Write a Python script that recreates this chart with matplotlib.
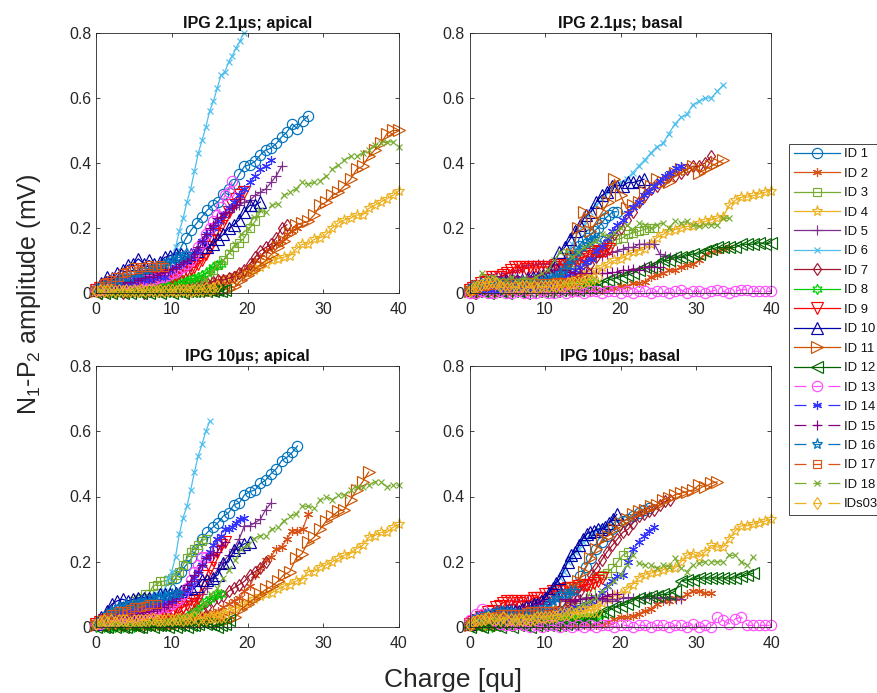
import matplotlib
matplotlib.use("Agg")
import matplotlib.pyplot as plt
from matplotlib.lines import Line2D

plt.rcParams['font.family'] = ['Liberation Sans', 'DejaVu Sans']
plt.rcParams['mathtext.default'] = 'regular'
plt.rcParams['lines.scale_dashes'] = False

# charge levels (qu), three stimulation grids
q05 = [0, .5, 1, 1.5, 2, 2.5, 3, 3.5, 4, 4.5, 5, 5.5, 6, 6.5, 7, 7.5, 8, 8.5, 9, 9.5, 10,
       10.5, 11, 11.5, 12, 12.5, 13, 13.5, 14, 14.5, 15, 15.5, 16, 16.5, 17, 17.5, 18, 18.5, 19, 19.5, 20]
q07 = [0, .7, 1.4, 2.1, 2.8, 3.5, 4.2, 4.9, 5.6, 6.3, 7, 7.7, 8.4, 9.1, 9.8, 10.5, 11.2, 11.9, 12.6, 13.3,
       14, 14.7, 15.4, 16.1, 16.8, 17.5, 18.2, 18.9, 19.6, 20.3, 21, 21.7, 22.4, 23.1, 23.8, 24.5, 25.2, 25.9,
       26.6, 27.3, 28, 28.7]
q08 = [0, .8, 1.6, 2.4, 3.2, 4, 4.8, 5.6, 6.4, 7.2, 8, 8.8, 9.6, 10.4, 11.2, 12, 12.8, 13.6, 14.4, 15.2,
       16, 16.8, 17.6, 18.4, 19.2, 20, 20.8, 21.6, 22.4, 23.2, 24, 24.8, 25.6, 26.4, 27.2, 28, 28.8, 29.6,
       30.4, 31.2, 32, 32.8, 33.6, 34.4, 35.2, 36, 36.8, 37.6, 38.4, 39.2, 40]

labels = ['ID 1', 'ID 2', 'ID 3', 'ID 4', 'ID 5', 'ID 6', 'ID 7', 'ID 8', 'ID 9', 'ID 10',
          'ID 11', 'ID 12', 'ID 13', 'ID 14', 'ID 15', 'ID 16', 'ID 17', 'ID 18', 'IDs03']
titles = ['IPG 2.1μs; apical', 'IPG 2.1μs; basal', 'IPG 10μs; apical', 'IPG 10μs; basal']

# --- IPG 2.1us apical ---
a21_id1 = [.01, .015, .02, .025, .03, .03, .035, .04, .05, .05, .055, .06, .07, .08, .09, .11, .14, .17, .195, .215,
           .235, .255, .27, .28, .305, .32, .335, .365, .39, .395, .405, .425, .44, .445, .46, .48, .495, .52, .505, .53, .545]
a21_id2 = [.005, .005, .01, .005, .01, .005, .01, .005, .01, .005, .01, .005, .01, .01, .01, .015, .015, .02, .02, .025,
           .03, .03, .035, .04, .045, .05, .055, .06, .07, .08, .1, .11, .13, .14, .15, .16, .18, .19, .2]
a21_id3 = [.01, .01, .015, .01, .015, .01, .01, .015, .01, .015, .015, .02, .02, .02, .02, .025, .025, .03, .03, .035,
           .04, .05, .07, .085, .1, .12, .14, .155, .17, .2, .22, .25]
a21_id4 = [.005, .005, .01, .005, .005, .01, .005, .005, .01, .005, .005, .005, .01, .005, .01, .005, .01, .01, .01, .015,
           .025, .03, .04, .045, .055, .06, .07, .08, .09, .1, .105, .11, .115, .135, .15, .15, .165, .17, .18, .2,
           .215, .225, .23, .24, .24, .26, .27, .28, .29, .3, .315]
a21_id5 = [.01, .015, .01, .02, .015, .02, .02, .025, .03, .03, .035, .035, .04, .045, .05, .06, .065, .07, .08, .1,
           .12, .15, .18, .2, .225, .25, .265, .27, .28, .285, .3, .31, .32, .34, .36, .39]
a21_id6 = [.01, .015, .015, .02, .025, .025, .03, .03, .035, .035, .04, .045, .05, .055, .06, .06, .07, .075, .085, .095,
           .11, .14, .19, .23, .28, .32, .375, .43, .47, .51, .56, .59, .63, .67, .68, .71, .73, .755, .775, .8]
a21_id7 = [.005, .0, .005, .01, .005, .0, .005, .01, .005, .0, .005, .01, .01, .01, .015, .015, .02, .02, .025, .025,
           .03, .03, .035, .04, .04, .045, .05, .06, .07, .09, .11, .13, .14, .15, .17, .2, .21]
a21_id8 = [.005, .01, .005, .01, .005, .01, .01, .005, .01, .01, .01, .015, .01, .015, .015, .02, .02, .02, .025, .025,
           .03, .03, .035, .04, .04, .045, .045, .05, .055, .06, .07, .08, .085, .09]
a21_id9 = [.01, .015, .015, .02, .02, .025, .03, .03, .03, .035, .035, .04, .04, .045, .04, .045, .045, .05, .05, .055,
           .05, .055, .06, .065, .07, .075, .08, .09, .1, .12, .14, .16, .18, .205, .23, .25, .27, .29, .3, .31]
a21_id10 = [.01, .03, .05, .045, .06, .07, .085, .09, .105, .09, .1, .09, .095, .11, .115, .12, .12, .11, .12, .13,
            .14, .14, .15, .165, .18, .2, .21, .225, .25, .27, .27, .28]
a21_id11 = [.005, .005, .01, .005, .005, .01, .005, .005, .01, .005, .005, .01, .005, .01, .005, .01, .005, .01, .01, .01,
            .01, .01, .015, .02, .04, .055, .07, .085, .1, .12, .14, .16, .185, .21, .215, .22, .24, .27, .28, .3,
            .31, .33, .35, .38, .39, .42, .44, .46, .49, .5, .5]
a21_id12 = [.0, .005, .0, .005, .0, .005, .005, .0, .005, .0, .005, .005, .0, .005, .0, .005, .005, .0, .005, .005,
            .0, .005, .005, .0, .005, .005, .005, .005, .01, .005, .01, .005, .01, .005, .01]
a21_id13 = [.01, .01, .015, .02, .02, .025, .025, .03, .03, .03, .035, .03, .035, .04, .04, .04, .045, .05, .05, .055,
            .06, .065, .075, .08, .09, .1, .12, .14, .155, .18, .2, .22, .24, .265, .3, .31, .345]
a21_id14 = [.01, .02, .02, .025, .03, .03, .03, .035, .04, .04, .04, .045, .05, .05, .07, .08, .09, .1, .11, .13,
            .16, .18, .2, .22, .24, .26, .28, .3, .32, .34, .36, .38, .39, .41]
a21_id15 = [.01, .015, .02, .02, .025, .025, .03, .03, .035, .035, .04, .04, .045, .05, .05, .05, .055, .06, .065, .07,
            .075, .08, .09, .095, .1, .11, .12, .14, .16, .18, .2, .21, .23, .235, .245, .25, .26, .27, .29]
a21_id16 = [.015, .02, .025, .03, .03, .04, .04, .05, .05, .05, .06, .06, .06, .07, .07, .08, .08, .085, .09, .095, .1, .105, .11, .115, .12]
a21_id17 = [.01, .02, .03, .035, .04, .05, .05, .06, .065, .07, .08, .075, .08, .08, .085, .08, .08, .085, .08]
a21_id18 = [.005, .005, .01, .005, .01, .005, .01, .01, .005, .01, .01, .005, .01, .01, .015, .015, .02, .025, .04, .06,
            .085, .1, .125, .15, .18, .2, .235, .255, .25, .27, .275, .3, .31, .32, .34, .335, .34, .345, .36, .38,
            .395, .41, .42, .42, .43, .44, .455, .46, .465, .465, .45]
a21_id19 = [.005, .01, .005, .01, .01, .005, .01, .005, .01, .005, .01, .005, .01, .005, .01, .01, .005, .01, .005, .01,
            .01, .005, .01, .01, .01, .005, .01, .01, .01, .015, .01, .015, .02]

# --- IPG 2.1us basal ---
b21_id1 = [.01, .015, .02, .02, .025, .03, .03, .03, .03, .025, .03, .03, .03, .03, .035, .03, .035, .035, .04, .04,
           .04, .045, .05, .06, .07, .085, .1, .115, .13, .145, .16, .17, .18, .19, .2, .215, .23, .24, .25, .25]
b21_id2 = [.005, .0, .005, .005, .0, .005, .0, .005, .005, .0, .005, .005, .0, .005, .0, .005, .005, .0, .005, .005,
           .005, .01, .01, .015, .015, .02, .02, .03, .03, .035, .05, .055, .06, .07, .07, .08, .085, .09, .1, .12,
           .125, .13, .135, .14]
b21_id3 = [.01, .015, .02, .02, .025, .02, .025, .02, .03, .03, .03, .025, .03, .03, .03, .035, .04, .05, .055, .07,
           .08, .09, .1, .115, .13, .14, .15, .16, .165, .17, .18, .185, .19, .195, .2, .2]
b21_id4 = [.005, .01, .02, .025, .03, .03, .025, .02, .02, .015, .015, .02, .015, .02, .02, .02, .03, .04, .05, .055,
           .06, .07, .08, .09, .1, .105, .115, .125, .13, .135, .15, .17, .18, .19, .195, .2, .205, .205, .215, .22,
           .225, .23, .235, .27, .285, .295, .295, .3, .305, .31, .315]
b21_id5 = [.01, .02, .03, .035, .04, .05, .05, .06, .065, .07, .08, .085, .085, .09, .09, .09, .085, .09, .09, .095,
           .1, .1, .1, .105, .11, .115, .12, .125, .13, .135, .14, .14, .15, .15, .15, .15, .12, .115, .11, .11, .11]
b21_id6 = [.01, .01, .015, .02, .02, .03, .03, .035, .035, .035, .04, .04, .04, .05, .06, .08, .11, .15, .19, .21,
           .25, .27, .29, .31, .33, .34, .35, .37, .39, .41, .43, .45, .46, .49, .52, .54, .55, .58, .59, .6,
           .6, .62, .64]
b21_id7 = [.005, .0, .005, .01, .005, .005, .01, .005, .01, .01, .01, .015, .015, .02, .025, .03, .04, .05, .06, .075,
           .09, .11, .13, .155, .18, .2, .225, .25, .28, .3, .32, .33, .345, .36, .36, .37, .38, .39, .39, .4, .42]
b21_id8 = [.005, .01, .015, .01, .02, .015, .02, .015, .02, .02, .015, .02, .02, .02, .02, .025, .02, .025, .02, .025,
           .025, .025, .03, .03, .025, .03, .03, .035, .03, .035, .035, .03, .04, .035]
b21_id9 = [.01, .015, .02, .03, .035, .04, .05, .05, .05, .055, .06, .07, .08, .08, .08, .075, .08, .08, .08, .08,
           .08, .08, .08, .085, .085, .09, .09, .1, .1, .105, .11, .115, .12, .125, .13, .13, .13, .135]
b21_id10 = [.01, .015, .02, .02, .03, .03, .03, .04, .04, .04, .04, .045, .05, .05, .055, .065, .09, .125, .14, .165,
            .19, .21, .24, .25, .28, .3, .31, .33, .33, .33, .34, .34, .345, .35]
b21_id11 = [.005, .01, .005, .01, .01, .005, .01, .015, .01, .015, .015, .02, .02, .025, .03, .04, .06, .12, .2, .25,
            .19, .22, .25, .28, .35, .3, .26, .27, .28, .31, .33, .35, .34, .34, .37, .38, .38, .39, .37, .38,
            .39, .4, .41]
b21_id12 = [.0, .005, .005, .0, .005, .005, .0, .005, .005, .0, .005, .005, .005, .005, .005, .01, .01, .01, .01, .015,
            .015, .02, .03, .04, .045, .05, .055, .06, .07, .08, .08, .09, .1, .1, .11, .11, .115, .12, .12, .13,
            .135, .14, .14, .14, .14, .15, .15, .15, .155, .15, .155]
b21_id13 = [.0, .0, .005, .0, .0, .005, .0, .0, .005, .0, .0, .0, .005, .0, .0, .005, .0, .005, .005, .0,
            .005, .005, .0, .005, .005, .0, .005, .0, .005, .005, .0, .005, .005, .0, .005, .01, .0, .005, .005, .0,
            .005, .01, .005, .0, .005, .01, .01, .005, .005, .005, .005]
b21_id14 = [.005, .01, .01, .015, .01, .015, .01, .015, .015, .02, .02, .015, .02, .02, .02, .025, .03, .04, .05, .06,
            .07, .08, .095, .105, .13, .145, .17, .19, .21, .225, .245, .265, .28, .3, .315, .33, .345, .36, .37, .385, .39]
b21_id15 = [.01, .02, .035, .04, .05, .05, .05, .045, .05, .05, .05, .05, .05, .055, .06, .065, .07, .07, .07, .065,
            .06, .06, .06, .06, .06, .06, .06, .065, .065, .07, .07, .075, .07, .08, .08, .08, .08]
b21_id16 = [.01, .02, .02, .03, .03, .035, .04, .035, .03, .03, .03, .03, .025, .03, .03, .03, .03, .03, .035, .035,
            .04, .04, .045, .05, .06, .07, .085, .1, .115, .13, .14, .15, .16, .165, .17]
b21_id17 = [.005, .01, .015, .02, .02, .025, .025, .03, .03, .03, .025, .03, .03, .03, .03, .03, .035, .03, .03, .03,
            .03, .03, .03, .035, .03, .035, .03, .035, .04, .04, .045]
b21_id18 = [.01, .03, .06, .05, .05, .04, .04, .05, .04, .045, .04, .05, .06, .07, .1, .125, .13, .11, .125, .14,
            .15, .16, .18, .175, .185, .2, .21, .195, .215, .21, .2, .21, .215, .2, .22, .215, .22, .21, .205, .21,
            .21, .21, .23, .23]
b21_id19 = [.005, .015, .02, .025, .03, .03, .035, .03, .02, .015, .015, .015, .02, .015, .02, .02, .015, .02, .015, .02,
            .02, .02, .025, .02, .025, .02, .03, .03, .03, .03, .035, .04, .04, .045, .05]

# --- IPG 10us apical ---
a10_id1 = [.01, .02, .03, .035, .04, .05, .05, .05, .055, .06, .06, .07, .08, .09, .12, .15, .17, .19, .21, .24,
           .27, .29, .305, .32, .34, .35, .375, .38, .405, .415, .42, .44, .45, .47, .485, .51, .52, .535, .555]
a10_id2 = [.005, .01, .005, .01, .01, .005, .01, .01, .01, .015, .01, .015, .02, .02, .025, .025, .03, .03, .03, .03,
           .03, .04, .045, .05, .06, .07, .08, .09, .11, .125, .16, .18, .205, .215, .24, .245, .27, .295, .295, .3, .345]
a10_id3 = [.01, .015, .02, .03, .04, .045, .05, .06, .06, .07, .08, .085, .09, .1, .1, .125, .13, .14, .14, .145,
           .15, .16, .17, .19, .21, .23, .24, .25, .265, .27]
a10_id4 = [.01, .01, .015, .01, .015, .015, .01, .015, .01, .015, .015, .01, .015, .015, .015, .015, .02, .02, .025, .03,
           .035, .04, .05, .055, .065, .075, .085, .095, .1, .105, .115, .125, .13, .14, .145, .17, .17, .185, .19, .2,
           .21, .22, .225, .24, .25, .275, .28, .29, .29, .305, .315]
a10_id5 = [.01, .015, .02, .025, .03, .03, .035, .04, .04, .045, .05, .05, .05, .055, .06, .06, .07, .08, .08, .09,
           .1, .12, .15, .18, .2, .22, .24, .27, .31, .31, .32, .33, .36, .38]
a10_id6 = [.01, .015, .02, .025, .03, .03, .04, .045, .05, .055, .06, .07, .08, .09, .09, .095, .1, .105, .11, .15,
           .17, .215, .285, .335, .37, .42, .475, .525, .56, .6, .63]
a10_id7 = [.005, .01, .005, .01, .01, .01, .015, .01, .015, .015, .02, .02, .02, .025, .03, .03, .035, .04, .04, .05,
           .055, .06, .08, .09, .095, .11, .12, .13, .14, .16, .17, .18, .2]
a10_id8 = [.0, .005, .0, .005, .0, .0, .005, .0, .005, .005, .0, .005, .005, .005, .005, .01, .01, .01, .01, .015,
           .015, .02, .02, .02, .03, .04, .05, .06, .07, .08, .085, .095, .1, .1]
a10_id9 = [.01, .015, .02, .02, .025, .025, .03, .03, .03, .03, .03, .035, .035, .035, .04, .04, .04, .045, .05, .05,
           .05, .055, .06, .06, .07, .07, .08, .09, .13, .155, .18, .205, .23, .25, .26]
a10_id10 = [.01, .03, .05, .07, .08, .085, .08, .085, .09, .09, .09, .09, .1, .1, .1, .105, .11, .115, .12, .125,
            .145, .145, .15, .16, .195, .2, .235, .245, .255, .26]
a10_id11 = [.005, .01, .005, .01, .01, .005, .01, .01, .005, .01, .01, .01, .01, .01, .015, .015, .015, .015, .015, .02,
            .02, .02, .025, .03, .055, .07, .085, .1, .115, .125, .14, .16, .17, .21, .225, .26, .275, .3, .325, .34,
            .355, .36, .39, .42, .445, .475]
a10_id12 = [.0, .005, .0, .0, .005, .0, .005, .0, .0, .005, .005, .0, .0, .005, .005, .0, .005, .005, .005, .0,
            .005, .0, .005, .005, .0, .005, .005, .01, .015, .01, .01, .005, .0, .005, .01, .02]
a10_id13 = [.01, .01, .015, .02, .02, .02, .025, .03, .03, .03, .03, .035, .04, .045, .05, .05, .055, .06, .065, .06,
            .07, .08, .085, .1, .12, .145, .17, .19, .215, .215]
a10_id14 = [.01, .015, .02, .03, .03, .035, .04, .04, .045, .05, .05, .055, .055, .06, .065, .065, .07, .07, .075, .08,
            .08, .09, .1, .105, .11, .13, .15, .17, .19, .21, .23, .25, .27, .28, .3, .3, .305, .32, .33, .335]
a10_id15 = [.01, .015, .02, .025, .025, .03, .03, .035, .03, .035, .04, .04, .04, .045, .05, .05, .055, .06, .06, .07,
            .08, .09, .1, .11, .13, .14, .16, .17, .19, .21, .22, .22, .23, .25, .26]
a10_id16 = [.01, .02, .03, .04, .05, .055, .06, .06, .07, .07, .07, .075, .08, .08, .08, .09, .09, .09, .095, .095, .1, .1, .105]
a10_id17 = [.01, .02, .025, .03, .04, .04, .05, .05, .05, .055, .06, .06, .06, .065, .07, .07, .07]
a10_id18 = [.005, .01, .005, .01, .01, .005, .01, .01, .01, .015, .015, .015, .015, .02, .025, .03, .05, .055, .075, .1,
            .12, .15, .175, .205, .24, .25, .27, .28, .28, .3, .305, .325, .34, .345, .37, .37, .365, .39, .4, .39,
            .405, .405, .42, .43, .43, .435, .445, .445, .43, .435, .435]
a10_id19 = [.01, .015, .02, .015, .02, .015, .02, .02, .02, .015, .02, .02, .02, .02, .02, .025, .02, .02, .02, .025,
            .02, .025, .025, .02, .025, .025, .03, .025, .03, .025, .03, .03, .03, .03, .035]

# --- IPG 10us basal ---
b10_id1 = [.01, .02, .03, .035, .04, .04, .04, .04, .04, .04, .035, .04, .04, .035, .04, .04, .045, .05, .07, .09,
           .12, .155, .185, .21, .24, .26, .28, .3, .31, .325, .33, .34, .35, .36, .365]
b10_id2 = [.005, .0, .005, .005, .0, .005, .0, .005, .005, .0, .005, .005, .0, .005, .005, .0, .005, .005, .005, .005,
           .005, .005, .01, .015, .025, .03, .03, .035, .04, .05, .055, .07, .08, .08, .09, .09, .1, .11, .11, .105, .105]
b10_id3 = [.01, .01, .015, .015, .02, .02, .02, .02, .02, .02, .025, .025, .025, .03, .03, .03, .03, .03, .035, .04,
           .05, .06, .08, .11, .15, .16, .165, .18, .2, .22, .23]
b10_id4 = [.005, .01, .02, .025, .025, .03, .03, .03, .025, .03, .03, .03, .025, .03, .03, .03, .035, .04, .05, .055,
           .06, .065, .075, .085, .095, .1, .115, .13, .15, .16, .165, .17, .175, .18, .18, .2, .22, .225, .215, .23,
           .25, .245, .245, .27, .295, .31, .31, .315, .32, .325, .33]
b10_id5 = [.01, .015, .02, .03, .04, .05, .05, .06, .07, .08, .08, .08, .08, .08, .08, .08, .085, .08, .08, .085,
           .08, .085, .09, .09, .09, .085, .08, .085, .08, .09, .09, .09, .09, .09, .095, .09, .09, .09, .09, .085, .085]
b10_id6 = [.01, .02, .02, .03, .03, .03, .035, .04, .04, .04, .04, .04, .045, .05, .05, .05, .06, .06, .06, .07,
           .08, .09, .11, .13, .15, .17, .2, .21, .23, .24, .26, .27, .285, .29, .3, .305, .31, .32, .33, .33]
b10_id7 = [.005, .01, .01, .015, .015, .02, .02, .02, .02, .025, .025, .03, .03, .03, .035, .04, .045, .05, .055, .07,
           .09, .11, .13, .16, .18, .205, .23, .25, .27, .29, .3, .32, .34, .345, .355, .36, .375, .385, .39]
b10_id8 = [.005, .0, .005, .005, .0, .005, .0, .005, .005, .005, .005, .01, .005, .01, .01, .01, .01, .015, .01, .015,
           .015, .015, .01, .015, .015, .02, .02, .02, .025, .025, .025, .03, .03, .035, .035, .04]
b10_id9 = [.01, .015, .02, .03, .035, .045, .05, .06, .065, .075, .08, .08, .08, .075, .08, .08, .08, .09, .09, .09,
           .1, .1, .11, .11, .11, .115, .12, .12, .12, .125, .13, .13, .13, .135, .14, .15]
b10_id10 = [.01, .02, .03, .03, .035, .04, .04, .04, .045, .045, .05, .05, .05, .05, .055, .06, .06, .07, .07, .08,
            .09, .105, .12, .135, .15, .175, .2, .22, .23, .25, .27, .285, .29, .295, .3, .3, .305, .32, .33, .345]
b10_id11 = [.005, .005, .01, .005, .01, .01, .01, .015, .01, .015, .02, .02, .02, .025, .03, .05, .07, .12, .14, .17,
            .21, .24, .27, .28, .3, .32, .33, .345, .355, .36, .37, .375, .39, .395, .405, .41, .415, .42, .435, .43,
            .44, .445]
b10_id12 = [.0, .005, .0, .005, .005, .0, .005, .0, .005, .005, .0, .005, .005, .005, .005, .005, .01, .01, .015, .015,
            .02, .03, .045, .05, .06, .065, .07, .08, .09, .09, .095, .095, .1, .1, .11, .14, .145, .145, .15, .15,
            .15, .15, .15, .15, .15, .155, .16, .165]
b10_id13 = [.02, .04, .055, .04, .02, .01, .005, .005, .01, .005, .0, .005, .0, .005, .005, .0, .005, .0, .005, .0,
            .005, .0, .005, .005, .0, .005, .005, .0, .005, .005, .0, .005, .005, .0, .005, .005, .0, .01, .0, .005,
            .0, .03, .02, .01, .025, .03, .005, .005, .005, .005, .005]
b10_id14 = [.01, .015, .02, .02, .025, .025, .03, .03, .03, .03, .035, .03, .035, .035, .035, .04, .04, .045, .05, .05,
            .06, .06, .07, .08, .09, .105, .125, .14, .155, .16, .2, .24, .26, .28, .295, .305]
b10_id15 = [.01, .015, .02, .025, .03, .035, .04, .04, .05, .05, .05, .06, .06, .07, .07, .08, .085, .085, .085, .08,
            .08, .085, .085, .09, .09, .09, .095, .1, .1]
b10_id16 = [.01, .02, .03, .03, .04, .04, .04, .05, .05, .05, .05, .05, .04, .04, .04, .04, .05, .05, .05, .05,
            .06, .07, .08, .09, .1, .1, .1, .11, .11]
b10_id17 = [.01, .015, .02, .025, .03, .03, .03, .035, .04, .04, .04, .04, .04, .04, .04, .045, .05, .05, .05, .05,
            .05, .05, .05]
b10_id18 = [.01, .02, .015, .02, .025, .02, .025, .02, .025, .03, .025, .03, .03, .03, .035, .035, .04, .05, .06, .07,
            .08, .09, .11, .125, .14, .16, .19, .22, .195, .19, .19, .18, .19, .185, .21, .18, .17, .19, .195, .2,
            .2, .2, .2, .22, .22, .2, .19, .215]
b10_id19 = [.005, .015, .02, .02, .025, .03, .025, .025, .02, .03, .02, .025, .02, .025, .02, .025, .02, .025, .03, .03,
            .03, .03, .035, .035, .04, .04, .04, .045, .04, .045, .05, .05, .05, .05, .05]

# charge grid of each ID in each panel
grids_a21 = [q07, q07, q07, q08, q07, q05, q07, q05, q05, q07, q08, q05, q05, q07, q05, q05, q05, q08, q05]
grids_b21 = [q05, q08, q07, q08, q07, q08, q08, q05, q05, q07, q08, q08, q08, q07, q07, q05, q05, q08, q05]
grids_a10 = [q07, q07, q05, q08, q07, q05, q07, q05, q05, q07, q08, q05, q05, q05, q05, q05, q05, q08, q05]
grids_b10 = [q07, q08, q07, q08, q07, q05, q07, q05, q05, q05, q08, q08, q08, q07, q07, q05, q05, q08, q05]

series_a21 = [a21_id1, a21_id2, a21_id3, a21_id4, a21_id5, a21_id6, a21_id7, a21_id8, a21_id9, a21_id10,
              a21_id11, a21_id12, a21_id13, a21_id14, a21_id15, a21_id16, a21_id17, a21_id18, a21_id19]
series_b21 = [b21_id1, b21_id2, b21_id3, b21_id4, b21_id5, b21_id6, b21_id7, b21_id8, b21_id9, b21_id10,
              b21_id11, b21_id12, b21_id13, b21_id14, b21_id15, b21_id16, b21_id17, b21_id18, b21_id19]
series_a10 = [a10_id1, a10_id2, a10_id3, a10_id4, a10_id5, a10_id6, a10_id7, a10_id8, a10_id9, a10_id10,
              a10_id11, a10_id12, a10_id13, a10_id14, a10_id15, a10_id16, a10_id17, a10_id18, a10_id19]
series_b10 = [b10_id1, b10_id2, b10_id3, b10_id4, b10_id5, b10_id6, b10_id7, b10_id8, b10_id9, b10_id10,
              b10_id11, b10_id12, b10_id13, b10_id14, b10_id15, b10_id16, b10_id17, b10_id18, b10_id19]

# MATLAB-like line styles
colors = ['#0072BD', '#D95319', '#77AC30', '#EDB120', '#7E2F8E', '#4DBEEE', '#A2142F', '#00CC00', '#FF0000', '#0000A6',
          '#CC5200', '#006400', '#FF4DFF', '#3333FF', '#800080', '#0072BD', '#D95319', '#77AC30', '#EDB120']
ast = (6, 2, 0)
markers = ['o', ast, 's', '*', '+', 'x', 'd', (6, 1, 0), 'v', '^', '>', '<', 'o', ast, '+', '*', 's', 'x', 'd']
msizes = [7.4, 6.5, 5.6, 8, 6.5, 5, 6.4, 7.5, 8, 8, 8, 8, 7.4, 6.5, 6.5, 8, 5.6, 5, 6.4]
W, H = 878, 693
fig = plt.figure(figsize=(W / 100, H / 100), dpi=100)

boxes = [(96, 33, 399, 293), (469.5, 33, 771.5, 293), (96, 366, 399, 627), (469.5, 366, 771.5, 627)]
all_series = [series_a21, series_b21, series_a10, series_b10]
all_grids = [grids_a21, grids_b21, grids_a10, grids_b10]

for box, title, series, grids in zip(boxes, titles, all_series, all_grids):
    l, t, r, b = box
    ax = fig.add_axes([l / W, 1 - b / H, (r - l) / W, (b - t) / H])
    for i, y in enumerate(series):
        x = grids[i][:len(y)]
        ax.plot(x, y, color=colors[i], lw=0.9, ls='-' if i < 12 else (0, (7, 4)),
                marker=markers[i], ms=msizes[i], mfc='none', mew=0.85, clip_on=False)
    ax.set_xlim(0, 40)
    ax.set_ylim(0, 0.8)
    ax.set_xticks([0, 10, 20, 30, 40])
    ax.set_yticks([0, 0.2, 0.4, 0.6, 0.8])
    ax.set_yticklabels(['0', '0.2', '0.4', '0.6', '0.8'])
    ax.tick_params(direction='in', top=True, right=True, length=3, width=0.6, labelsize=11.4,
                   colors='#262626')
    ax.tick_params(axis='x', pad=6.5)
    ax.tick_params(axis='y', pad=3.5)
    for s in ax.spines.values():
        s.set_linewidth(0.6)
        s.set_color('#262626')
    ax.set_title(title, fontsize=11.6, fontweight='bold', color='#111111', pad=3.5)

handles = []
for i, lab in enumerate(labels):
    handles.append(Line2D([], [], color=colors[i], lw=0.9, ls='-' if i < 12 else (0, (8.6, 5, 5.8, 5, 8.6, 50)),
                          marker=markers[i], ms=msizes[i], mfc='none', mew=0.85, label=lab))
leg = fig.legend(handles=handles, loc='upper left', bbox_to_anchor=(789.5 / W, 1 - 143.5 / H),
                 borderaxespad=0, fontsize=9.4, frameon=True, fancybox=False, framealpha=1,
                 edgecolor='#262626', handlelength=3.5, handletextpad=0.3, labelspacing=0.56,
                 borderpad=0.35, labelcolor='#111111', numpoints=1)
leg.get_frame().set_linewidth(0.6)

fig.text(453 / W, 1 - 680 / H, 'Charge [qu]', fontsize=19, ha='center', va='center', color='#262626')
fig.text(29 / W, 1 - 294 / H, 'N$_1$-P$_2$ amplitude (mV)', fontsize=18, rotation=90,
         ha='center', va='center', color='#262626')

fig.savefig('out.png', dpi=100)
